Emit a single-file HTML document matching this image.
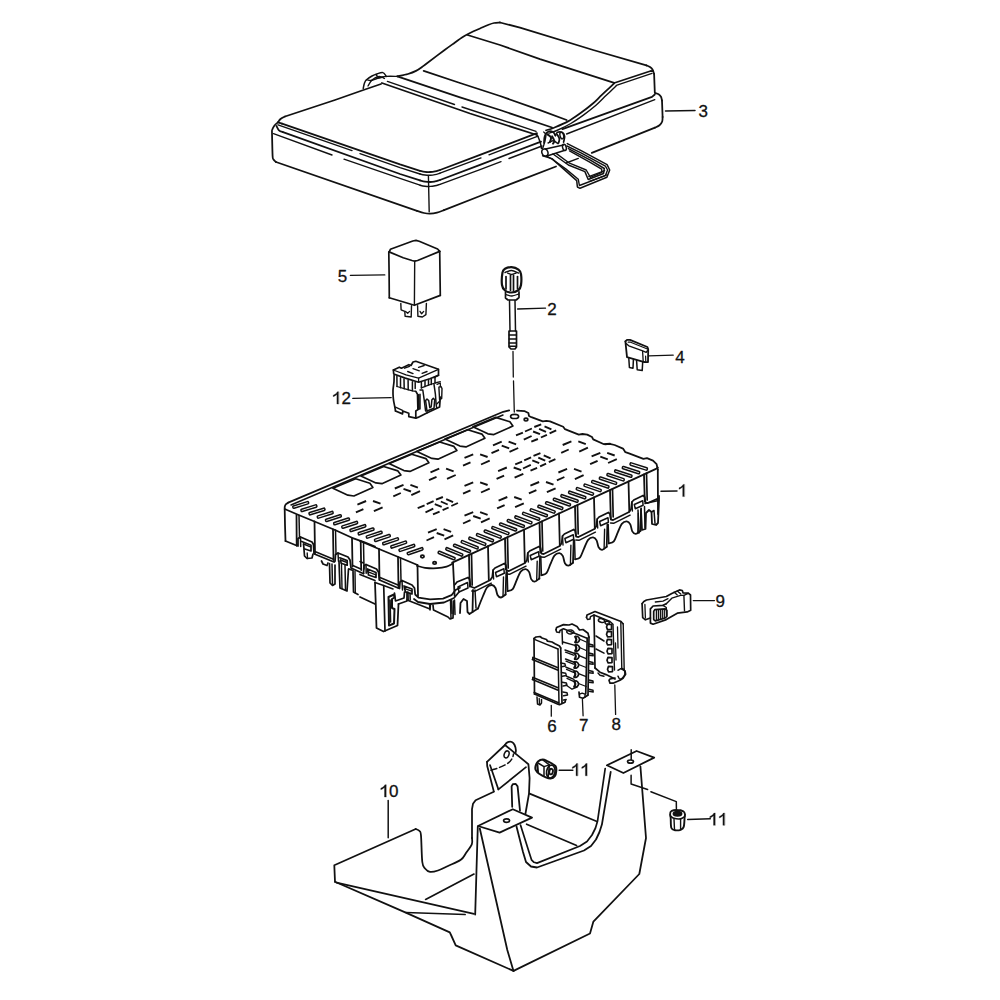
<!DOCTYPE html>
<html><head><meta charset="utf-8"><title>Fuse box exploded view</title>
<style>
html,body{margin:0;padding:0;background:#fff;}
body{width:1000px;height:1000px;overflow:hidden;}
svg{display:block;}
svg text{font-family:"Liberation Sans",sans-serif;fill:#111;stroke:#111;stroke-width:0.3px;}
</style></head><body>
<svg width="1000" height="1000" viewBox="0 0 1000 1000" fill="none" stroke="#111" stroke-width="1.78" stroke-linecap="round" stroke-linejoin="round">
<rect x="0" y="0" width="1000" height="1000" fill="#fff" stroke="none"/>
<path d="M278 122.3 C277.4 122.8 275.4 124.3 274.5 125.5 C273.6 126.7 272.7 128.2 272.3 129.5 C271.9 130.8 271.9 128.6 272 133 C272.1 137.4 272.4 151.6 272.6 156 C272.9 160.4 272.9 158.5 273.5 159.5 C274.1 160.5 275.6 161.6 276 162"/>
<path d="M276 162 L417 210.8"/>
<path d="M417 210.8 C418.2 211.2 421.8 212.5 424 213 C426.2 213.5 427.8 213.8 430 213.7 C432.2 213.6 434.7 213.2 437 212.6 C439.3 212 442.8 210.6 444 210.2"/>
<path d="M444 210.2 L480 196 L520 180.4 L556 166.5"/>
<path d="M591.8 152.9 L655 127.6"/>
<path d="M655 127.6 C655.8 127.2 658.3 126.3 659.5 125.3 C660.7 124.3 661.7 122.9 662.2 121.5 C662.7 120.1 662.5 117.8 662.6 117"/>
<path d="M662.6 117 L662 100.5"/>
<path d="M662 100.5 C661.8 99.9 661.6 97.8 661 96.8 C660.4 95.8 659.6 94.9 658.6 94.3 C657.6 93.7 655.6 93.2 655 93"/>
<path d="M428.4 175.6 L429.2 211.8" stroke-width="1.4"/>
<path d="M278 122.3 L282 123.7"/>
<path d="M282 123.7 L400 164.4 L420 170.8"/>
<path d="M420 170.8 C420.8 171 423.3 171.7 425 171.9 C426.7 172.1 428.7 172.1 430.4 172 C432.1 171.9 433.4 171.7 435 171.4 C436.6 171.1 439.2 170.2 440 170"/>
<path d="M440 170 L480 154.8 L537 133.2"/>
<path d="M278 124.8 L352 150.6" stroke-width="1.4"/>
<path d="M360 153.6 L400 167.6 L420 174" stroke-width="1.4"/>
<path d="M420 174 C420.8 174.2 423.3 174.8 425 175 C426.7 175.2 428.7 175.3 430.4 175.2 C432.1 175.1 433.4 174.9 435 174.6 C436.6 174.3 439.2 173.4 440 173.2" stroke-width="1.4"/>
<path d="M440 173.2 L481 157.9" stroke-width="1.4"/>
<path d="M489 154.8 L538 136.2" stroke-width="1.4"/>
<path d="M276.5 126 C276.9 126.7 277.9 129.3 279 130.3 C280.1 131.3 282.3 131.9 283 132.2"/>
<path d="M283 132.2 L400 174 L420 180.4"/>
<path d="M420 180.4 C420.8 180.6 423.3 181.3 425 181.6 C426.7 181.9 428.7 182 430.4 182 C432.1 182 433.4 181.7 435 181.4 C436.6 181.1 439.2 180.2 440 180"/>
<path d="M440 180 L480 164.8 L541 141.6"/>
<path d="M273.5 133.6 L332 155" stroke-width="1.4"/>
<path d="M344 159.2 L400 178.4 L420 185.2" stroke-width="1.4"/>
<path d="M420 185.2 C420.8 185.4 423.3 186 425 186.2 C426.7 186.4 428.7 186.5 430.4 186.4 C432.1 186.3 433.4 186.1 435 185.8 C436.6 185.5 439.2 184.6 440 184.4" stroke-width="1.4"/>
<path d="M440 184.4 L480 169.6 L501 161.6" stroke-width="1.4"/>
<path d="M509 158.5 L542 146" stroke-width="1.4"/>
<path d="M278 122.3 C278.4 121.8 279.3 120 280.5 119 C281.7 118 284.2 116.9 285 116.5"/>
<path d="M285 116.5 L335 100 L362 90.5 L381 84"/>
<path d="M381.9 83 L460 110 L470 113.5 L537 135"/>
<path d="M387.4 81.4 L454.5 104.5" stroke-width="1.4"/>
<path d="M462 107 L536 131.3" stroke-width="1.4"/>
<path d="M397.3 76.4 L460 97.3 L500 110 L552 127.5"/>
<path d="M423.7 70.9 L460 83 L500 96 L540 110.2 L566.6 120"/>
<path d="M363.2 88.5 C363.4 87.6 363.9 84.5 364.5 83 C365.1 81.5 365.2 80.9 366.5 79.7 C367.8 78.5 370.2 77 372 76 C373.8 75 375.7 74.3 377.5 73.7 C379.3 73.1 381.5 72.1 383 72.6 C384.5 73 385.8 75.8 386.3 76.4" stroke-width="1.5"/>
<path d="M366.5 79.7 C367.2 79.8 369.2 80.7 371 80.5 C372.8 80.3 374.4 79.2 377 78.5 C379.6 77.8 382.9 76.8 386.3 76.4 C389.7 76.1 395.5 76.4 397.3 76.4" stroke-width="1.4"/>
<path d="M368 86 C368.7 85 370.2 81.6 372 80 C373.8 78.4 376.9 76.8 379 76.5 C381.1 76.2 383.6 78.2 384.5 78.5" stroke-width="1.3"/>
<path d="M376 74.5 L378.5 78 L383.5 77" stroke-width="1.3"/>
<path d="M397.3 76.4 C399.1 76 404.9 74.9 408 74 C411.1 73.1 413.7 72.1 416 70.9 C418.3 69.7 420.2 68.3 422 67 C423.8 65.7 423.2 66 427 63.2 C430.8 60.4 439.9 53.5 444.6 50 C449.3 46.5 452.1 44.6 455 42.5 C457.9 40.4 459.5 39.1 462 37.5 C464.5 35.9 467 34.5 470 33 C473 31.5 477 29.8 480 28.5 C483 27.2 485.7 25.9 488 25 C490.3 24.1 492 23.4 494 23 C496 22.6 499 22.6 500 22.5"/>
<path d="M500 22.5 L520 27.6 L593.2 50 L646.4 65.4"/>
<path d="M646.4 65.4 C647 65.7 649 66.3 650 67 C651 67.7 651.8 68.4 652.5 69.5 C653.2 70.6 653.8 73.1 654.1 73.8"/>
<path d="M654.1 73.8 L654.8 92.5"/>
<path d="M467.5 35 L500 45 L540 59.1 L614.2 82.9"/>
<path d="M614.2 83 L650.6 71 L653 71.2"/>
<path d="M616.3 85.4 L652 73.4" stroke-width="1.4"/>
<path d="M614.2 83.3 C613 84.4 609.6 87.7 607.2 89.9 C604.8 92.1 602.3 94.5 600 96.7 C597.7 98.9 596.4 100.5 593.2 103.2 C590 105.9 584.8 110 580.6 113 C576.4 116 572.4 119 568 121.4 C563.6 123.9 557.7 126.2 554 127.7 C550.3 129.2 547.3 129.9 546 130.3"/>
<path d="M616.3 85.7 C614.6 87.3 609.4 92.3 606 95.6 C602.6 98.9 599.8 102 596 105.3 C592.2 108.5 587.6 112.1 583.4 115.1 C579.2 118.1 575.2 120.9 570.8 123.5 C566.4 126.1 560.4 128.9 556.8 130.5 C553.2 132.1 550.3 132.8 549 133.2" stroke-width="1.4"/>
<path d="M562.4 129.1 L652 96.9 L654.8 94.5"/>
<path d="M566.6 134 L654.8 99.7" stroke-width="1.4"/>
<path d="M665.5 110.9 L695 110.4" stroke-width="1.5"/>
<path d="M534.9 133.7 C535.3 134 536.7 134.3 537.6 135.9 C538.5 137.4 539.7 140.9 540.4 143 C541 145.1 541.3 147.6 541.5 148.5" stroke-width="1.5"/>
<path d="M543.7 132 C544 132.5 545.7 133.1 545.9 134.8 C546 136.4 545.3 139.6 544.8 141.9 C544.2 144.2 542.9 147.4 542.6 148.5" stroke-width="1.4"/>
<path d="M544 143 C544.1 141.8 544 137.8 544.8 135.9 C545.5 133.9 547 132.2 548.4 131.6 C549.8 130.9 551.8 131.3 553 132 C554.2 132.7 555 134.9 555.4 135.5" stroke-width="1.7"/>
<path d="M555.4 135.5 C555.8 135 556.5 132.7 557.6 132.2 C558.8 131.7 561.2 131.9 562.4 132.6 C563.5 133.2 564.4 134.8 564.6 136.4 C564.8 138 563.7 141.2 563.6 142.1" stroke-width="1.7"/>
<path d="M547.5 134.4 C548.1 134.9 550.6 136.2 551 137.5 C551.4 138.8 550.1 141.4 549.9 142.1" stroke-width="2"/>
<path d="M552.1 136.4 C552.5 137.2 554.2 139.8 554.3 141 C554.5 142.2 553.2 143.1 553 143.6" stroke-width="2"/>
<path d="M557.4 134.8 C557.7 135.4 559.2 137.4 559.4 138.8 C559.6 140.2 558.7 142.3 558.5 143" stroke-width="1.8"/>
<path d="M548.1 143 C548.9 142.6 551.4 140.7 553 140.8 C554.7 140.9 557.1 143.1 558 143.6" stroke-width="1.5"/>
<ellipse cx="544.9" cy="152.5" rx="3" ry="3.6" stroke-width="1.5" transform="rotate(-20 544.9 152.5)"/>
<path d="M545.5 148.9 L563.5 145" stroke-width="1.5"/>
<path d="M547 156 L564.2 150.5" stroke-width="1.5"/>
<ellipse cx="564.4" cy="147.4" rx="1.8" ry="3.2" stroke-width="1.5" transform="rotate(-15 564.4 147.4)"/>
<ellipse cx="561.8" cy="135.5" rx="1.8" ry="3.4" stroke-width="1.4" transform="rotate(-15 561.8 135.5)"/>
<path d="M542.6 155.7 L551.9 158.6 L564 169.4 L576.7 180.6 L577.4 187 L580 188.3 L606.9 177.3 L609.7 170 L607.1 164.6 L581.6 150.9 L567.3 143.6" stroke-width="1.5"/>
<path d="M546.4 156.2 L553 159.7 L565.7 168.9 L578.3 179.3 L579.4 185.5 L605.3 175.7 L607.6 170 L605.4 166.1 L580.5 152.6 L566.8 146" stroke-width="1.4"/>
<path d="M553 154 L568.4 165 L584.9 171.6 L588.2 179.5 L603.6 173.5 L604.3 168.5 L590.4 160.2 L568.4 148.7" stroke-width="1.5"/>
<path d="M556.5 153.6 L569.5 163.2 L586.2 170 L590.4 177.3 L602 172.3 L601.6 169.1 L589.3 161.8 L569.5 150.9" stroke-width="1.4"/>
<path d="M588.8 176.6 L604.7 170.7" stroke-width="1.3"/>
<path d="M589.5 181.3 L606.9 174.9" stroke-width="1.3"/>
<path d="M566.2 163 L578.3 158.4" stroke-width="1.4"/>
<path d="M389.1 252.2 L390.4 249.3 L412.8 241 L416 240.4 L419.2 241.3 L437.6 249 L439.7 251.4" stroke-width="1.7"/>
<path d="M389.1 251.9 L403.2 257.8 L412 260.5 L414.7 261.2 L417.6 260.5 L439.7 251.4" stroke-width="1.7"/>
<path d="M388.8 252.2 L389.1 273 L389.3 297.8" stroke-width="1.7"/>
<path d="M414.7 261.2 L414.4 305" stroke-width="1.4"/>
<path d="M439.7 251.4 L440.3 295.4" stroke-width="1.7"/>
<path d="M389.3 297.8 L414.4 305.3 L440.3 295.4" stroke-width="1.7"/>
<path d="M400.8 303.4 L401.1 309.8 L404.8 311.4 L405.1 316.2 L411.2 317 L411.5 305.8" stroke-width="1.4"/>
<path d="M405.6 311.4 L407.7 313.3 L409.6 311.4" stroke-width="1.3"/>
<path d="M417.6 305.8 L417.9 316.2 L422.4 317 L425.9 314.6 L426.4 303.4" stroke-width="1.4"/>
<path d="M420 311.4 L421.6 313.8 L423.7 311.4" stroke-width="1.3"/>
<path d="M350.4 275.4 L384.8 274.9" stroke-width="1.3"/>
<path d="M393.4 370 L399.3 367.2 L401.4 368.2 L408.8 364.7 L411 365.5 L413 362 L415.8 361.3 L438.5 369.3 L438.5 375.3 L434 377.5" stroke-width="1.7"/>
<path d="M393.4 370 L393.7 374 L405.3 378.1 L418.6 382.2 L429.8 378.8 L438.5 375.3" stroke-width="1.7"/>
<path d="M393.4 370 L406 374.9 L418.6 378.1 L438.5 369.3" stroke-width="1.3"/>
<path d="M418.6 378.1 L418.6 382.2" stroke-width="1.3"/>
<path d="M404.6 368.2 L409.5 366.3" stroke-width="1.4"/>
<path d="M413 368.7 L419.3 370.8" stroke-width="1.4"/>
<path d="M418.6 367.3 L424.2 365.5" stroke-width="1.4"/>
<path d="M407.7 371.5 L413 373.6" stroke-width="1.4"/>
<path d="M422.1 373.3 L427 371.5" stroke-width="1.4"/>
<path d="M396.9 376 L397 386.5" stroke-width="1.5"/>
<path d="M400.5 377.7 L400.5 387.8" stroke-width="1.5"/>
<path d="M404 379.1 L404.2 388.7" stroke-width="1.5"/>
<path d="M408.1 380.3 L408.2 389.8" stroke-width="1.5"/>
<path d="M412.4 381.7 L412.4 390.7" stroke-width="1.5"/>
<path d="M415.2 382.4 L415.2 388.6" stroke-width="1.5"/>
<path d="M421.4 382.4 L421.4 387.9" stroke-width="1.5"/>
<path d="M425 381 L425 386.5" stroke-width="1.5"/>
<path d="M428.5 379.6 L428.5 385.1" stroke-width="1.5"/>
<path d="M431.3 378.7 L431.3 384.4" stroke-width="1.5"/>
<path d="M435 377.5 L435 383" stroke-width="1.5"/>
<path d="M397 386.5 L404.2 388.7 L412.4 390.8 L415.8 391.4" stroke-width="1.3"/>
<path d="M421.4 387.9 L428.5 385.1 L435 383 L440.3 381.6" stroke-width="1.3"/>
<path d="M394.1 375.3 C394.1 376.3 394.1 379.1 394 381.6 C393.8 384 393.2 387.2 393 390 C392.9 392.8 393 395.6 393.3 398.4 C393.5 401.2 394.4 404.7 394.8 406.8 C395.2 408.9 395.4 410.3 395.5 411" stroke-width="1.7"/>
<path d="M395.5 411 L402.5 413.9 L402.8 411 L408.8 413.2 L408.8 416.7 L415.8 418.1 L417.9 417.4 L426.3 413.2 L439.6 406.9 L440.3 397" stroke-width="1.7"/>
<path d="M395.5 407.1 L402.5 410.3" stroke-width="1.3"/>
<path d="M415.8 391.4 L417.5 394.2 L417.9 409.6 L415.8 411 L415.8 418" stroke-width="1.7"/>
<path d="M420 394.2 L420 408.9 L417.9 409.6" stroke-width="1.5"/>
<path d="M418.6 394.9 L418.9 408.2" stroke-width="1.8"/>
<path d="M420 390 L422.8 390 L424.2 399.8 L425.6 411" stroke-width="1.5"/>
<path d="M425.6 400.5 L427 411 L434 408.2 L434.7 399.8 L433.3 398.4 L431.9 399.8 L431.2 406.8 L429.8 407.6 L428.7 400.5 L427 399.1 L425.6 400.5" stroke-width="1.5"/>
<path d="M427 411 L427 413.1" stroke-width="1.3"/>
<path d="M434 384.4 C434.2 386 435 390.9 435.4 394.2 C435.7 397.5 435.9 401.7 436.1 404 C436.3 406.3 436.7 407.5 436.8 408.2" stroke-width="1.5"/>
<path d="M438.9 387.2 L441 386.5 L442 388.6 L441.7 398.4 L439.6 399.8 L438.9 387.2" stroke-width="1.4"/>
<path d="M437.1 384.4 L440.3 383 L440.4 386.5" stroke-width="1.3"/>
<path d="M436.8 404 L439.6 401.2" stroke-width="1.3"/>
<path d="M352.8 398.4 L391.2 397.6" stroke-width="1.3"/>
<path d="M502.5 272.5 C503 269.8 503.5 269.7 505 268.8 C506.5 267.9 509.2 267.1 511.5 267.2 C513.8 267.3 516.9 268.4 518.5 269.6 C520.1 270.8 520.6 271.6 521 274.2 C521.4 276.8 521.4 282.4 521 285 C520.6 287.6 520.1 288.8 518.5 290 C516.9 291.2 513.8 292.4 511.5 292.5 C509.2 292.6 506.6 291.8 505 290.5 C503.4 289.2 502.4 288 502 285 C501.6 282 502 275.2 502.5 272.5Z" stroke-width="2.2"/>
<path d="M505 272.5 C506.1 272.2 509.2 270.4 511.5 270.5 C513.8 270.6 517.3 272.6 518.5 273" stroke-width="1.4"/>
<path d="M506 276.5 L506 289" stroke-width="1.7"/>
<path d="M510.5 275 L510.5 290.2" stroke-width="1.7"/>
<path d="M513.5 275 L513.5 290.2" stroke-width="1.7"/>
<path d="M517.5 276.5 L517.5 288.5" stroke-width="1.7"/>
<path d="M507.5 273 C508.2 273.2 510.1 274.5 511.5 274.5 C513 274.5 515.4 273.2 516.2 273" stroke-width="1.3"/>
<path d="M505.5 292 L505.5 298 L508 300 L516.2 300 L519 297.5 L519 291.8" stroke-width="1.7"/>
<path d="M506 294.5 C507 294.8 509.9 296.1 512 296 C514.1 295.9 517.7 294.3 518.8 294" stroke-width="1.3"/>
<path d="M509.5 300.5 L510 331" stroke-width="1.5"/>
<path d="M515 300.5 L515.5 331" stroke-width="1.5"/>
<path d="M509 331 L509 347 L511 349 L515 349 L516.5 347 L516.5 331Z" stroke-width="1.7"/>
<path d="M509.2 335 L516.4 335" stroke-width="1.4"/>
<path d="M509.2 339 L516.4 339" stroke-width="1.4"/>
<path d="M509.2 343 L516.4 343" stroke-width="1.4"/>
<path d="M509.4 346.2 L516.2 346.2" stroke-width="1.4"/>
<path d="M513 351.5 L513.3 377" stroke-width="1.3"/>
<path d="M513.5 381 L514.3 412" stroke-width="1.3"/>
<path d="M517.6 309 L545.5 308.2" stroke-width="1.3"/>
<path d="M625.4 341.4 L627 339.8 L630 339.8 L647.4 347 L648.2 349.4 L648 362 L644.6 362.2" stroke-width="1.8"/>
<path d="M625.4 341.4 L627 357.2 L644.4 362.2" stroke-width="1.8"/>
<path d="M625.8 343.4 L628.8 345.8 L642 350.6 L646.2 352.4 L648 350" stroke-width="1.4"/>
<path d="M628.2 342.2 L630.6 342.2 L646.8 348.8" stroke-width="1.2"/>
<path d="M642.6 351.4 L643.2 361.4" stroke-width="1.3"/>
<path d="M645.6 356 L645.8 361.4" stroke-width="1.2"/>
<path d="M628.8 358.2 L629.4 367.4 L633 368.2 L633.4 359.6" stroke-width="1.5"/>
<path d="M636.6 360.6 L637.2 369.8 L642.2 370.6 L642.7 362" stroke-width="1.5"/>
<path d="M648.8 355.8 L673.2 355.2" stroke-width="1.3"/>
<path d="M284.7 509 C284.7 508.6 284.6 507.3 284.8 506.5 C285 505.7 285.4 504.8 286 504.2 C286.6 503.6 287.8 502.9 288.2 502.6"/>
<path d="M288.2 502.6 L503.2 411.8 L509.2 410.4"/>
<path d="M291 505 L476 426.2 L503 415" stroke-width="1.5"/>
<path d="M517 410.6 L524.8 411.2 L528.4 413 L529 416 L531.4 417.2 L542.8 421.4 L546.4 420.8 L550 421.4 L563.2 426.8 L565 429.2 L568 430.4 L578.8 434.6 L582.4 434 L587.2 434.6 L592 437 L593.2 439.4 L604 444.2 L610 443.6"/>
<ellipse cx="514.6" cy="416.4" rx="4" ry="2.1" stroke-width="1.7"/>
<ellipse cx="526" cy="419.6" rx="1.8" ry="1.4" stroke-width="1.7"/>
<path d="M472.9 426.8 L495.7 417.4 L509.9 421.8 L512.9 426 L493.9 434.6 L487.9 433.8Z" stroke-width="1.7"/>
<path d="M444.9 439.1 L467.7 429.7 L481.9 434.1 L484.9 438.3 L465.9 446.9 L459.9 446.1Z" stroke-width="1.7"/>
<path d="M416.9 451.4 L439.7 442 L453.9 446.4 L456.9 450.6 L437.9 459.2 L431.9 458.4Z" stroke-width="1.7"/>
<path d="M388.9 463.6 L411.7 454.2 L425.9 458.6 L428.9 462.8 L409.9 471.4 L403.9 470.6Z" stroke-width="1.7"/>
<path d="M360.9 475.9 L383.7 466.5 L397.9 470.9 L400.9 475.1 L381.9 483.7 L375.9 482.9Z" stroke-width="1.7"/>
<path d="M332.9 488.2 L355.7 478.8 L369.9 483.2 L372.9 487.4 L353.9 496 L347.9 495.2Z" stroke-width="1.7"/>
<rect x="292.5" y="503.7" width="16.4" height="2.4" rx="0.9" stroke-width="1.5" transform="rotate(-17.2 300.7 504.9)"/>
<rect x="300.7" y="507" width="16.4" height="2.4" rx="0.9" stroke-width="1.5" transform="rotate(-17.3 308.9 508.2)"/>
<rect x="308.8" y="510.3" width="16.4" height="2.4" rx="0.9" stroke-width="1.5" transform="rotate(-17.4 317 511.5)"/>
<rect x="317" y="513.6" width="16.4" height="2.4" rx="0.9" stroke-width="1.5" transform="rotate(-17.6 325.2 514.8)"/>
<rect x="325.2" y="516.9" width="16.4" height="2.4" rx="0.9" stroke-width="1.5" transform="rotate(-17.7 333.4 518.1)"/>
<rect x="333.4" y="520.2" width="16.4" height="2.4" rx="0.9" stroke-width="1.5" transform="rotate(-17.8 341.6 521.4)"/>
<rect x="341.5" y="523.6" width="16.4" height="2.4" rx="0.9" stroke-width="1.5" transform="rotate(-17.9 349.7 524.8)"/>
<rect x="349.7" y="526.9" width="16.4" height="2.4" rx="0.9" stroke-width="1.5" transform="rotate(-18 357.9 528.1)"/>
<rect x="357.9" y="530.2" width="16.4" height="2.4" rx="0.9" stroke-width="1.5" transform="rotate(-18.1 366.1 531.4)"/>
<rect x="366" y="533.5" width="16.4" height="2.4" rx="0.9" stroke-width="1.5" transform="rotate(-18.2 374.2 534.7)"/>
<rect x="374.2" y="536.8" width="16.4" height="2.4" rx="0.9" stroke-width="1.5" transform="rotate(-18.3 382.4 538)"/>
<rect x="382.4" y="540.1" width="16.4" height="2.4" rx="0.9" stroke-width="1.5" transform="rotate(-18.4 390.6 541.3)"/>
<rect x="390.5" y="543.4" width="16.4" height="2.4" rx="0.9" stroke-width="1.5" transform="rotate(-18.6 398.7 544.6)"/>
<rect x="398.7" y="546.7" width="16.4" height="2.4" rx="0.9" stroke-width="1.5" transform="rotate(-18.7 406.9 547.9)"/>
<rect x="406.9" y="550" width="16.4" height="2.4" rx="0.9" stroke-width="1.5" transform="rotate(-18.8 415.1 551.2)"/>
<rect x="437.6" y="554.3" width="18" height="2.4" rx="0.9" stroke-width="1.5" transform="rotate(22.3 446.6 555.5)"/>
<rect x="445.3" y="550.7" width="18" height="2.4" rx="0.9" stroke-width="1.5" transform="rotate(22.1 454.3 551.9)"/>
<rect x="453" y="547.2" width="18" height="2.4" rx="0.9" stroke-width="1.5" transform="rotate(21.9 462 548.4)"/>
<rect x="460.7" y="543.6" width="18" height="2.4" rx="0.9" stroke-width="1.5" transform="rotate(21.8 469.7 544.8)"/>
<rect x="468.3" y="540.1" width="18" height="2.4" rx="0.9" stroke-width="1.5" transform="rotate(21.6 477.3 541.3)"/>
<rect x="476" y="536.5" width="18" height="2.4" rx="0.9" stroke-width="1.5" transform="rotate(21.4 485 537.7)"/>
<rect x="483.7" y="532.9" width="18" height="2.4" rx="0.9" stroke-width="1.5" transform="rotate(21.2 492.7 534.1)"/>
<rect x="491.4" y="529.4" width="18" height="2.4" rx="0.9" stroke-width="1.5" transform="rotate(21 500.4 530.6)"/>
<rect x="499.1" y="525.8" width="18" height="2.4" rx="0.9" stroke-width="1.5" transform="rotate(20.9 508.1 527)"/>
<rect x="506.8" y="522.3" width="18" height="2.4" rx="0.9" stroke-width="1.5" transform="rotate(20.7 515.8 523.5)"/>
<rect x="514.4" y="518.7" width="18" height="2.4" rx="0.9" stroke-width="1.5" transform="rotate(20.5 523.4 519.9)"/>
<rect x="522.1" y="515.1" width="18" height="2.4" rx="0.9" stroke-width="1.5" transform="rotate(20.3 531.1 516.3)"/>
<rect x="529.8" y="511.6" width="18" height="2.4" rx="0.9" stroke-width="1.5" transform="rotate(20.1 538.8 512.8)"/>
<rect x="537.5" y="508" width="18" height="2.4" rx="0.9" stroke-width="1.5" transform="rotate(20 546.5 509.2)"/>
<rect x="545.2" y="504.5" width="18" height="2.4" rx="0.9" stroke-width="1.5" transform="rotate(19.8 554.2 505.7)"/>
<rect x="552.9" y="500.9" width="18" height="2.4" rx="0.9" stroke-width="1.5" transform="rotate(19.6 561.9 502.1)"/>
<rect x="560.5" y="497.3" width="18" height="2.4" rx="0.9" stroke-width="1.5" transform="rotate(19.4 569.5 498.5)"/>
<rect x="568.2" y="493.8" width="18" height="2.4" rx="0.9" stroke-width="1.5" transform="rotate(19.2 577.2 495)"/>
<rect x="575.9" y="490.2" width="18" height="2.4" rx="0.9" stroke-width="1.5" transform="rotate(19 584.9 491.4)"/>
<rect x="583.6" y="486.7" width="18" height="2.4" rx="0.9" stroke-width="1.5" transform="rotate(18.9 592.6 487.9)"/>
<rect x="591.3" y="483.1" width="18" height="2.4" rx="0.9" stroke-width="1.5" transform="rotate(18.7 600.3 484.3)"/>
<rect x="599" y="479.5" width="18" height="2.4" rx="0.9" stroke-width="1.5" transform="rotate(18.5 608 480.7)"/>
<rect x="606.6" y="476" width="18" height="2.4" rx="0.9" stroke-width="1.5" transform="rotate(18.3 615.6 477.2)"/>
<rect x="614.3" y="472.4" width="18" height="2.4" rx="0.9" stroke-width="1.5" transform="rotate(18.1 623.3 473.6)"/>
<rect x="622" y="468.9" width="18" height="2.4" rx="0.9" stroke-width="1.5" transform="rotate(17.9 631 470.1)"/>
<rect x="629.7" y="465.3" width="18" height="2.4" rx="0.9" stroke-width="1.5" transform="rotate(17.7 638.7 466.5)"/>
<ellipse cx="422.4" cy="556.5" rx="1.7" ry="1.3" stroke-width="1.7"/>
<ellipse cx="434.6" cy="562.9" rx="1.7" ry="1.3" stroke-width="1.7"/>
<path d="M357.4 504.6 L366.1 501" stroke-width="1.9" stroke-linecap="butt"/>
<path d="M355.9 512.4 L363.4 509.1" stroke-width="1.9" stroke-linecap="butt"/>
<path d="M373.9 511.2 L382.6 507.3" stroke-width="1.9" stroke-linecap="butt"/>
<path d="M373 501 L380.5 503.7" stroke-width="1.9" stroke-linecap="butt"/>
<path d="M394.8 488.5 L403.5 484.9" stroke-width="1.9" stroke-linecap="butt"/>
<path d="M393.3 496.3 L400.8 493" stroke-width="1.9" stroke-linecap="butt"/>
<path d="M411.3 495.1 L420 491.2" stroke-width="1.9" stroke-linecap="butt"/>
<path d="M410.4 484.9 L417.9 487.6" stroke-width="1.9" stroke-linecap="butt"/>
<path d="M403.5 488.8 L411 491.5" stroke-width="1.9" stroke-linecap="butt"/>
<path d="M430.5 472.3 L439.2 468.7" stroke-width="1.9" stroke-linecap="butt"/>
<path d="M429 480.1 L436.5 476.8" stroke-width="1.9" stroke-linecap="butt"/>
<path d="M447 478.9 L455.7 475" stroke-width="1.9" stroke-linecap="butt"/>
<path d="M446.1 468.7 L453.6 471.4" stroke-width="1.9" stroke-linecap="butt"/>
<path d="M464.5 457.9 L473.2 454.3" stroke-width="1.9" stroke-linecap="butt"/>
<path d="M463 465.7 L470.5 462.4" stroke-width="1.9" stroke-linecap="butt"/>
<path d="M481 464.5 L489.7 460.6" stroke-width="1.9" stroke-linecap="butt"/>
<path d="M480.1 454.3 L487.6 457" stroke-width="1.9" stroke-linecap="butt"/>
<path d="M417.7 508.1 L424.6 505.4" stroke-width="1.9" stroke-linecap="butt"/>
<path d="M426.7 504.2 L433.6 501.2" stroke-width="1.9" stroke-linecap="butt"/>
<path d="M436 499.7 L442.9 497" stroke-width="1.9" stroke-linecap="butt"/>
<path d="M425.5 512.3 L433.3 508.7" stroke-width="1.9" stroke-linecap="butt"/>
<path d="M433 514.4 L439.6 511.7" stroke-width="1.9" stroke-linecap="butt"/>
<path d="M442.6 510.2 L448.6 507.5" stroke-width="1.9" stroke-linecap="butt"/>
<path d="M451.3 506 L457.9 503" stroke-width="1.9" stroke-linecap="butt"/>
<path d="M446.2 499.1 L453.1 502.1" stroke-width="1.9" stroke-linecap="butt"/>
<path d="M440.8 501.5 L447.7 504.5" stroke-width="1.9" stroke-linecap="butt"/>
<path d="M434.8 504.2 L441.7 506.9" stroke-width="1.9" stroke-linecap="butt"/>
<path d="M464.5 485.9 L473.2 482.3" stroke-width="1.9" stroke-linecap="butt"/>
<path d="M463 493.7 L470.5 490.4" stroke-width="1.9" stroke-linecap="butt"/>
<path d="M481 492.5 L489.7 488.6" stroke-width="1.9" stroke-linecap="butt"/>
<path d="M480.1 482.3 L487.6 485" stroke-width="1.9" stroke-linecap="butt"/>
<path d="M464.5 515.7 L473.2 512.1" stroke-width="1.9" stroke-linecap="butt"/>
<path d="M463 523.5 L470.5 520.2" stroke-width="1.9" stroke-linecap="butt"/>
<path d="M481 522.3 L489.7 518.4" stroke-width="1.9" stroke-linecap="butt"/>
<path d="M480.1 512.1 L487.6 514.8" stroke-width="1.9" stroke-linecap="butt"/>
<path d="M473.2 516 L480.7 518.7" stroke-width="1.9" stroke-linecap="butt"/>
<path d="M428 532.7 L436.7 529.1" stroke-width="1.9" stroke-linecap="butt"/>
<path d="M426.5 540.5 L434 537.2" stroke-width="1.9" stroke-linecap="butt"/>
<path d="M444.5 539.3 L453.2 535.4" stroke-width="1.9" stroke-linecap="butt"/>
<path d="M443.6 529.1 L451.1 531.8" stroke-width="1.9" stroke-linecap="butt"/>
<path d="M436.7 533 L444.2 535.7" stroke-width="1.9" stroke-linecap="butt"/>
<path d="M516 435.4 L522.9 432.7" stroke-width="1.9" stroke-linecap="butt"/>
<path d="M525 431.5 L531.9 428.5" stroke-width="1.9" stroke-linecap="butt"/>
<path d="M534.3 427 L541.2 424.3" stroke-width="1.9" stroke-linecap="butt"/>
<path d="M523.8 439.6 L531.6 436" stroke-width="1.9" stroke-linecap="butt"/>
<path d="M531.3 441.7 L537.9 439" stroke-width="1.9" stroke-linecap="butt"/>
<path d="M540.9 437.5 L546.9 434.8" stroke-width="1.9" stroke-linecap="butt"/>
<path d="M549.6 433.3 L556.2 430.3" stroke-width="1.9" stroke-linecap="butt"/>
<path d="M544.5 426.4 L551.4 429.4" stroke-width="1.9" stroke-linecap="butt"/>
<path d="M539.1 428.8 L546 431.8" stroke-width="1.9" stroke-linecap="butt"/>
<path d="M533.1 431.5 L540 434.2" stroke-width="1.9" stroke-linecap="butt"/>
<path d="M493 445.3 L501.7 441.7" stroke-width="1.9" stroke-linecap="butt"/>
<path d="M491.5 453.1 L499 449.8" stroke-width="1.9" stroke-linecap="butt"/>
<path d="M509.5 451.9 L518.2 448" stroke-width="1.9" stroke-linecap="butt"/>
<path d="M508.6 441.7 L516.1 444.4" stroke-width="1.9" stroke-linecap="butt"/>
<path d="M501.7 445.6 L509.2 448.3" stroke-width="1.9" stroke-linecap="butt"/>
<path d="M562.7 445 L571.4 441.4" stroke-width="1.9" stroke-linecap="butt"/>
<path d="M561.2 452.8 L568.7 449.5" stroke-width="1.9" stroke-linecap="butt"/>
<path d="M579.2 451.6 L587.9 447.7" stroke-width="1.9" stroke-linecap="butt"/>
<path d="M578.3 441.4 L585.8 444.1" stroke-width="1.9" stroke-linecap="butt"/>
<path d="M591.6 456.4 L600.3 452.8" stroke-width="1.9" stroke-linecap="butt"/>
<path d="M590.1 464.2 L597.6 460.9" stroke-width="1.9" stroke-linecap="butt"/>
<path d="M608.1 463 L616.8 459.1" stroke-width="1.9" stroke-linecap="butt"/>
<path d="M607.2 452.8 L614.7 455.5" stroke-width="1.9" stroke-linecap="butt"/>
<path d="M600.3 456.7 L607.8 459.4" stroke-width="1.9" stroke-linecap="butt"/>
<path d="M515.2 464.3 L522.1 461.6" stroke-width="1.9" stroke-linecap="butt"/>
<path d="M524.2 460.4 L531.1 457.4" stroke-width="1.9" stroke-linecap="butt"/>
<path d="M533.5 455.9 L540.4 453.2" stroke-width="1.9" stroke-linecap="butt"/>
<path d="M523 468.5 L530.8 464.9" stroke-width="1.9" stroke-linecap="butt"/>
<path d="M530.5 470.6 L537.1 467.9" stroke-width="1.9" stroke-linecap="butt"/>
<path d="M540.1 466.4 L546.1 463.7" stroke-width="1.9" stroke-linecap="butt"/>
<path d="M548.8 462.2 L555.4 459.2" stroke-width="1.9" stroke-linecap="butt"/>
<path d="M543.7 455.3 L550.6 458.3" stroke-width="1.9" stroke-linecap="butt"/>
<path d="M538.3 457.7 L545.2 460.7" stroke-width="1.9" stroke-linecap="butt"/>
<path d="M532.3 460.4 L539.2 463.1" stroke-width="1.9" stroke-linecap="butt"/>
<path d="M498.1 471.1 L506.8 467.5" stroke-width="1.9" stroke-linecap="butt"/>
<path d="M496.6 478.9 L504.1 475.6" stroke-width="1.9" stroke-linecap="butt"/>
<path d="M514.6 477.7 L523.3 473.8" stroke-width="1.9" stroke-linecap="butt"/>
<path d="M513.7 467.5 L521.2 470.2" stroke-width="1.9" stroke-linecap="butt"/>
<path d="M558.4 472.5 L567.1 468.9" stroke-width="1.9" stroke-linecap="butt"/>
<path d="M556.9 480.3 L564.4 477" stroke-width="1.9" stroke-linecap="butt"/>
<path d="M574.9 479.1 L583.6 475.2" stroke-width="1.9" stroke-linecap="butt"/>
<path d="M574 468.9 L581.5 471.6" stroke-width="1.9" stroke-linecap="butt"/>
<path d="M530.4 485.6 L539.1 482" stroke-width="1.9" stroke-linecap="butt"/>
<path d="M528.9 493.4 L536.4 490.1" stroke-width="1.9" stroke-linecap="butt"/>
<path d="M546.9 492.2 L555.6 488.3" stroke-width="1.9" stroke-linecap="butt"/>
<path d="M546 482 L553.5 484.7" stroke-width="1.9" stroke-linecap="butt"/>
<path d="M498.6 500.6 L507.3 497" stroke-width="1.9" stroke-linecap="butt"/>
<path d="M497.1 508.4 L504.6 505.1" stroke-width="1.9" stroke-linecap="butt"/>
<path d="M515.1 507.2 L523.8 503.3" stroke-width="1.9" stroke-linecap="butt"/>
<path d="M514.2 497 L521.7 499.7" stroke-width="1.9" stroke-linecap="butt"/>
<path d="M605 444.4 L609.8 443.8 L614.6 445 L623 448.6 L625.4 452.2 L629 453.4 L643.4 458.8 L647 458.2 L653 460.6 L656.6 464.2 L657.8 469.6"/>
<path d="M657.8 469.6 L658 514"/>
<path d="M452.2 562.6 L485 547.6 L609.8 490.1 L656 468.9 L657.8 467.5"/>
<path d="M284.7 509.5 L285 525 L285.5 541"/>
<path d="M284.7 509 L297.5 514.5 L314.5 521.5 L335 530 L352 537.8 L364 542.2 L375 546.5"/>
<path d="M285.5 541 L296.5 545.5"/>
<path d="M296.5 515 L296.7 545.5"/>
<path d="M299 515.5 L299.5 538" stroke-width="1.5"/>
<path d="M296.7 545.5 L298 546 L298 538.5 L300.5 537 L312 542 L313.5 544.5 L314 553.5 L315 554.2 L334 562 L335 561.2 L335.5 554.5 L338 553 L348 557 L350 560 L351 568 L362 573 L363.5 573.5"/>
<path d="M315.5 551.8 L333.5 559.2" stroke-width="1.5"/>
<path d="M352.8 565.5 L360.8 569" stroke-width="1.5"/>
<path d="M314.5 521.5 L315 553.5"/>
<path d="M333 529.5 L333.5 560"/>
<path d="M335.5 530 L336 554.5" stroke-width="1.5"/>
<path d="M352 538 L352.5 566.5"/>
<path d="M360.7 541.2 L361.2 570"/>
<path d="M363.5 542.5 L364 569" stroke-width="1.5"/>
<path d="M300.5 537 L300.7 546.5" stroke-width="1.5"/>
<path d="M301.7 541.5 L311 545.2 L311 551 L304 548.8 L303.5 544" stroke-width="1.7"/>
<path d="M303.5 544 L310.5 546.8" stroke-width="1.4"/>
<path d="M304 549.5 L304.5 556 L307 558.5 L312 558 L313 554" stroke-width="1.7"/>
<path d="M307.2 553 L307.5 558.5" stroke-width="1.4"/>
<path d="M321.5 561 L323 564 L327 565.5 L328 563" stroke-width="1.7"/>
<path d="M329.5 563.5 L330 583 L332.5 585.5 L335 584 L335 565" stroke-width="1.7"/>
<path d="M332 564 L332.5 585" stroke-width="1.5"/>
<path d="M338 553 L338.5 561.2" stroke-width="1.5"/>
<path d="M339.8 557.8 L347.2 560.6 L347.2 565.2 L341.2 563.2 L340.5 560" stroke-width="1.7"/>
<path d="M340.5 560 L347 562.5" stroke-width="1.4"/>
<path d="M339 561.2 L340 588 L347 591 L348.5 569" stroke-width="1.7"/>
<path d="M345 565 L345.5 590.2" stroke-width="1.5"/>
<path d="M341.5 564 L342 588.5" stroke-width="1.4"/>
<path d="M349 569 L353 570.5 L353.5 592 L358 594.5" stroke-width="1.7"/>
<path d="M355 571.2 L355.3 593" stroke-width="1.4"/>
<path d="M360 541 L379 549 L399.5 557.5 L417.5 565"/>
<path d="M379 549 L379.5 580"/>
<path d="M398 557 L398.5 588"/>
<path d="M400.5 558 L401 580.5" stroke-width="1.5"/>
<path d="M417.5 565 L418 596"/>
<path d="M363.5 573.5 L364 565.5 L366 564.5 L376.5 569 L378.5 572 L379.5 580 L398 588 L399.5 588.5 L400 582 L402 580.5 L412 585 L414.5 588 L415.2 594.5 L418.5 597.7 L430 599.3 L443 598.6 L451.5 595.2 L455.5 590 L460 587.8"/>
<path d="M380 577.5 L398 585" stroke-width="1.5"/>
<path d="M360 561.5 L363.5 563" stroke-width="1.5"/>
<path d="M366 564.5 L366.2 573.2" stroke-width="1.5"/>
<path d="M367.5 569 L376 572.5 L376 577.5 L368.5 575 L367.5 569" stroke-width="1.7"/>
<path d="M368.2 571.8 L375.8 574.8" stroke-width="1.4"/>
<path d="M402 580.5 L402.5 590" stroke-width="1.5"/>
<path d="M404 586 L412 589 L412 594 L405.5 592 L404 586" stroke-width="1.7"/>
<path d="M404.8 588.6 L411.8 591.2" stroke-width="1.4"/>
<path d="M414 599 L418 602 L430 604 L444 602.5 L454 598 L459 592"/>
<path d="M360 574.5 L375 580.5" stroke-width="1.7"/>
<path d="M360 597 L375 604" stroke-width="1.7"/>
<path d="M375 582.5 L375.8 605 L376.5 628 L383.5 631.5 L397.5 625.5 L398.5 604"/>
<path d="M383.7 585.5 L385 631" stroke-width="1.7"/>
<path d="M375 582.5 L383.7 585.5 L393 589" stroke-width="1.5"/>
<path d="M388.5 597 L389 625.5 L394 623.5 L394.5 609 L392 608 L392 599 L394.5 597.5 L394 594.5Z" stroke-width="2"/>
<path d="M390 600 L390.5 622" stroke-width="1.7"/>
<path d="M394.5 593 L395.5 601 L404 598 L404.5 592" stroke-width="1.7"/>
<path d="M398.5 604 L407 601 L407 592" stroke-width="1.7"/>
<path d="M408 592 L408.2 600" stroke-width="1.5"/>
<path d="M410 593 L410.2 600" stroke-width="1.5"/>
<path d="M407 600 L430 609 L430.5 604" stroke-width="1.7"/>
<path d="M433 605 L433.5 610 L448 617 L450 619 L453 618 L453.5 601" stroke-width="1.7"/>
<path d="M429.5 604 L430 610" stroke-width="1.5"/>
<path d="M450.5 600 L451 618.5" stroke-width="1.5"/>
<path d="M417 565.8 C418.3 566.1 421.7 567.4 425 567.8 C428.3 568.2 433.4 568.4 437 568.2 C440.6 568 443.9 567.4 446.6 566.6 C449.3 565.8 451.9 563.9 453 563.4"/>
<path d="M453 563.4 L454.6 595.8"/>
<path d="M469 554.9 L469.8 586.5" stroke-width="1.8"/>
<path d="M471.5 553.7 L472.2 585" stroke-width="1.7"/>
<path d="M505 538.3 L505.8 569.5" stroke-width="1.8"/>
<path d="M507.5 537.2 L508.2 568" stroke-width="1.7"/>
<path d="M539.5 522.4 L540.3 552.5" stroke-width="1.8"/>
<path d="M542 521.3 L542.7 551" stroke-width="1.7"/>
<path d="M575 506.1 L575.8 535.5" stroke-width="1.8"/>
<path d="M577.5 505 L578.2 534" stroke-width="1.7"/>
<path d="M610 490 L610.8 518.5" stroke-width="1.8"/>
<path d="M612.5 488.9 L613.2 517" stroke-width="1.7"/>
<path d="M644 474.4 L644.8 501.5" stroke-width="1.8"/>
<path d="M646.5 473.2 L647.2 500" stroke-width="1.7"/>
<path d="M488 546.1 L488.8 579.5"/>
<path d="M524 529.6 L524.8 562.5"/>
<path d="M559 513.5 L559.8 545.5"/>
<path d="M594 497.4 L594.8 528.5"/>
<path d="M628.5 481.5 L629.3 511.5"/>
<path d="M455 584.5 L457 582 L468 577.5 L469.5 579 L470.6 586.5 L474.3 588 L490.3 580 L492.3 577 L493.1 570 L495 568 L504.3 563.5 L505.8 564.8 L506.8 570.7 L509 571 L525 563 L527 560 L527.8 553 L529.7 551 L539 546.5 L540.5 547.8 L541.5 553.7 L543.7 554 L559.7 546 L561.7 543 L562.5 536 L564.4 534 L573.7 529.5 L575.2 530.8 L576.2 536.7 L578.4 537 L594.4 529 L596.4 526 L597.2 519 L599.1 517 L608.4 512.5 L609.9 513.8 L610.9 519.7 L613.1 520 L629.1 512 L631.1 509 L631.9 502 L633.8 500 L643.1 495.5 L644.6 496.8 L645.6 502.7 L647.8 503 L658.5 498.3"/>
<path d="M471.8 591 L474.8 591.3 L491.3 583.2" stroke-width="1.5"/>
<path d="M495.5 572.5 L503.9 568.7 L504.3 573.2 L496.5 576.8Z" stroke-width="1.5"/>
<path d="M493.1 570 L493.6 579" stroke-width="1.4"/>
<path d="M506.5 574 L509.5 574.3 L526 566.2" stroke-width="1.5"/>
<path d="M530.2 555.5 L538.6 551.7 L539 556.2 L531.2 559.8Z" stroke-width="1.5"/>
<path d="M527.8 553 L528.3 562" stroke-width="1.4"/>
<path d="M541.2 557 L544.2 557.3 L560.7 549.2" stroke-width="1.5"/>
<path d="M564.9 538.5 L573.3 534.7 L573.7 539.2 L565.9 542.8Z" stroke-width="1.5"/>
<path d="M562.5 536 L563 545" stroke-width="1.4"/>
<path d="M575.9 540 L578.9 540.3 L595.4 532.2" stroke-width="1.5"/>
<path d="M599.6 521.5 L608 517.7 L608.4 522.2 L600.6 525.8Z" stroke-width="1.5"/>
<path d="M597.2 519 L597.7 528" stroke-width="1.4"/>
<path d="M610.6 523 L613.6 523.3 L630.1 515.2" stroke-width="1.5"/>
<path d="M634.3 504.5 L642.7 500.7 L643.1 505.2 L635.3 508.8Z" stroke-width="1.5"/>
<path d="M631.9 502 L632.4 511" stroke-width="1.4"/>
<path d="M458 587 L467.5 582.5 L468 588 L459 592Z" stroke-width="1.5"/>
<path d="M645 503.5 L658.5 500.5" stroke-width="1.5"/>
<path d="M478 608.5 C478.8 606.4 481.5 599.5 483 596 C484.5 592.5 485.5 589.3 487 587.5 C488.5 585.7 490.6 584.9 492 585 C493.4 585.1 494.6 586.3 495.5 588 C496.4 589.7 496.6 593.4 497.5 595 C498.4 596.6 499.6 597.6 501 597.5 C502.4 597.4 504.8 595 505.6 594.5" stroke-width="1.8"/>
<path d="M505.6 594.5 L506.3 572" stroke-width="1.8"/>
<path d="M503 596.5 L503.5 577" stroke-width="1.4"/>
<path d="M507.7 591.1 C508.5 590.8 511.2 590.9 512.7 589.1 C514.2 587.3 515.4 583 516.7 580.1 C518 577.2 519.2 573.4 520.7 571.6 C522.2 569.8 524.3 569 525.7 569.1 C527.1 569.2 528.3 570.4 529.2 572.1 C530.1 573.8 530.3 577.5 531.2 579.1 C532.1 580.7 533.4 581.7 534.7 581.6 C536.1 581.5 538.5 579.1 539.3 578.6" stroke-width="1.8"/>
<path d="M539.3 578.6 L540 556.1" stroke-width="1.8"/>
<path d="M536.7 580.6 L537.2 561.1" stroke-width="1.4"/>
<path d="M507.7 591.1 L507.1 572.1" stroke-width="1.5"/>
<path d="M541.4 575.2 C542.2 574.9 544.9 575 546.4 573.2 C547.9 571.4 549.1 567.1 550.4 564.2 C551.7 561.3 552.9 557.5 554.4 555.7 C555.9 553.9 558 553.1 559.4 553.2 C560.8 553.3 562 554.5 562.9 556.2 C563.8 557.9 564 561.6 564.9 563.2 C565.8 564.8 567 565.8 568.4 565.7 C569.8 565.6 572.2 563.2 573 562.7" stroke-width="1.8"/>
<path d="M573 562.7 L573.7 540.2" stroke-width="1.8"/>
<path d="M570.4 564.7 L570.9 545.2" stroke-width="1.4"/>
<path d="M541.4 575.2 L540.8 556.2" stroke-width="1.5"/>
<path d="M575.1 559.3 C575.9 559 578.6 559.1 580.1 557.3 C581.6 555.5 582.8 551.2 584.1 548.3 C585.4 545.4 586.6 541.6 588.1 539.8 C589.6 538 591.7 537.2 593.1 537.3 C594.5 537.4 595.7 538.6 596.6 540.3 C597.5 542 597.7 545.7 598.6 547.3 C599.5 548.9 600.8 549.9 602.1 549.8 C603.5 549.7 605.9 547.3 606.7 546.8" stroke-width="1.8"/>
<path d="M606.7 546.8 L607.4 524.3" stroke-width="1.8"/>
<path d="M604.1 548.8 L604.6 529.3" stroke-width="1.4"/>
<path d="M575.1 559.3 L574.5 540.3" stroke-width="1.5"/>
<path d="M608.8 543.4 C609.6 543.1 612.3 543.2 613.8 541.4 C615.3 539.6 616.5 535.3 617.8 532.4 C619.1 529.5 620.3 525.7 621.8 523.9 C623.3 522.1 625.4 521.3 626.8 521.4 C628.2 521.5 629.4 522.7 630.3 524.4 C631.2 526.1 631.4 529.8 632.3 531.4 C633.2 533 634.4 534 635.8 533.9 C637.1 533.8 639.6 531.4 640.4 530.9" stroke-width="1.8"/>
<path d="M640.4 530.9 L641.1 508.4" stroke-width="1.8"/>
<path d="M637.8 532.9 L638.3 513.4" stroke-width="1.4"/>
<path d="M608.8 543.4 L608.2 524.4" stroke-width="1.5"/>
<path d="M460 613 L460.5 603 L463.5 599 L467 601 L467.5 612 L469.5 614 L472.5 612 L473 590" stroke-width="1.8"/>
<path d="M472.5 612 L478 608.5" stroke-width="1.7"/>
<path d="M475 590 L476 608" stroke-width="1.5"/>
<path d="M451.5 600 L452 613.5" stroke-width="1.5"/>
<path d="M454.5 600 L455 614.5" stroke-width="1.5"/>
<path d="M659 496 L659 500 L658 523 L656 525 L652 524 L651.5 512 L649 510 L646 513 L645.5 529 L642 530 L641 510" stroke-width="1.8"/>
<path d="M651.5 512 L654 510.5 L655 523.5" stroke-width="1.5"/>
<path d="M638 510 L639 533" stroke-width="1.5"/>
<path d="M644.5 506.5 L645 528" stroke-width="1.5"/>
<path d="M661 491.2 L677 491" stroke-width="1.5"/>
<path d="M534 638.5 L534.5 694" stroke-width="1.7"/>
<path d="M534 638.5 L536 637 L540 636.5 L542 638 L546.5 639.5 L547.5 641.2 L552 642 L555 643.7 L559.5 646 L560.7 648" stroke-width="1.7"/>
<path d="M535 639.7 L558 649" stroke-width="1.4"/>
<path d="M558 649 L559 704" stroke-width="1.5"/>
<path d="M560.7 648 L562 703" stroke-width="1.7"/>
<path d="M534.5 694 L558 704.2 L559.5 704.7 L565 702.2 L565.5 700" stroke-width="1.7"/>
<path d="M533 657.5 L558 667.7" stroke-width="1.7"/>
<path d="M532.5 659.5 L557.5 670" stroke-width="1.7"/>
<path d="M533 657.5 L532.5 659.5" stroke-width="1.4"/>
<path d="M533 677.5 L558 687.7" stroke-width="1.7"/>
<path d="M532.5 679.5 L557.5 690" stroke-width="1.7"/>
<path d="M533 677.5 L532.5 679.5" stroke-width="1.4"/>
<path d="M534.2 692.5 L558.5 702.8" stroke-width="1.7"/>
<path d="M560.7 663 L564.9 663.8 L565.5 666 L561.5 666.8" stroke-width="1.4"/>
<path d="M561.5 672.5 L565.7 673.3 L566.3 675.5 L562.3 676.3" stroke-width="1.4"/>
<path d="M562.2 682.2 L566.4 683 L567 685.2 L563 686" stroke-width="1.4"/>
<path d="M562.8 692 L567 692.8 L567.6 695 L563.6 695.8" stroke-width="1.4"/>
<path d="M563.5 700 L566.2 699.5" stroke-width="1.4"/>
<path d="M537 697 L537.5 704 L540 705 L541.5 703 L541.5 699.5" stroke-width="1.5"/>
<path d="M539.2 698.5 L539.5 704.5" stroke-width="1.3"/>
<path d="M556 629.7 L556.6 627.5 L563.5 624.6 L569 625 L572 624 L577 626.5 L579.5 630 L583 629.5 L588 633.2 L589 637.2" stroke-width="1.7"/>
<path d="M556 629.7 L556.6 632 L559.5 632.6 L560 630.5 L563.5 628.7 L587 638.2" stroke-width="1.5"/>
<path d="M562 629.5 L562.5 644" stroke-width="1.5"/>
<path d="M587.2 638.2 L585.7 694" stroke-width="1.7"/>
<path d="M589 637.2 L588 695" stroke-width="1.7"/>
<path d="M588.8 644 L593 645 L593.2 646.8 L589 646.2" stroke-width="1.4"/>
<path d="M588.8 653 L593 654 L593.2 655.8 L589 655.2" stroke-width="1.4"/>
<path d="M588.8 661.5 L593 662.5 L593.2 664.3 L589 663.7" stroke-width="1.4"/>
<path d="M588.8 670.5 L593 671.5 L593.2 673.3 L589 672.7" stroke-width="1.4"/>
<path d="M588.8 680 L593 681 L593.2 682.8 L589 682.2" stroke-width="1.4"/>
<path d="M588.8 689.2 L593 690.2 L593.2 692 L589 691.4" stroke-width="1.4"/>
<path d="M575.3 636.7 C575.7 636.7 576.8 636.2 577.5 636.5 C578.2 636.8 579 637.6 579.3 638.3 C579.6 639 579.6 640 579.3 640.7 C579 641.4 578.2 642.2 577.5 642.5 C576.8 642.8 575.7 642.3 575.3 642.3" stroke-width="1.7"/>
<path d="M575.3 636.7 C575.5 637.2 576.3 638.6 576.3 639.5 C576.3 640.4 575.5 641.8 575.3 642.3" stroke-width="2.2"/>
<path d="M579.5 639 L586.2 642" stroke-width="1.3"/>
<path d="M575.3 645.2 C575.7 645.2 576.8 644.7 577.5 645 C578.2 645.3 579 646.1 579.3 646.8 C579.6 647.5 579.6 648.5 579.3 649.2 C579 649.9 578.2 650.7 577.5 651 C576.8 651.3 575.7 650.8 575.3 650.8" stroke-width="1.7"/>
<path d="M575.3 645.2 C575.5 645.7 576.3 647.1 576.3 648 C576.3 648.9 575.5 650.3 575.3 650.8" stroke-width="2.2"/>
<path d="M579.5 647.5 L586.2 650.5" stroke-width="1.3"/>
<path d="M574.8 653.4 C575.2 653.4 576.3 652.9 577 653.2 C577.7 653.5 578.5 654.3 578.8 655 C579.1 655.7 579.1 656.7 578.8 657.4 C578.5 658.1 577.7 658.9 577 659.2 C576.3 659.5 575.2 659 574.8 659" stroke-width="1.7"/>
<path d="M574.8 653.4 C575 653.9 575.8 655.3 575.8 656.2 C575.8 657.1 575 658.5 574.8 659" stroke-width="2.2"/>
<path d="M579 655.7 L586.2 658.7" stroke-width="1.3"/>
<path d="M574.4 662.2 C574.8 662.2 575.9 661.7 576.6 662 C577.3 662.3 578.1 663.1 578.4 663.8 C578.7 664.5 578.7 665.5 578.4 666.2 C578.1 666.9 577.3 667.7 576.6 668 C575.9 668.3 574.8 667.8 574.4 667.8" stroke-width="1.7"/>
<path d="M574.4 662.2 C574.6 662.7 575.4 664.1 575.4 665 C575.4 665.9 574.6 667.3 574.4 667.8" stroke-width="2.2"/>
<path d="M578.6 664.5 L586.2 667.5" stroke-width="1.3"/>
<path d="M574.3 671.4 C574.7 671.4 575.8 670.9 576.5 671.2 C577.2 671.5 578 672.3 578.3 673 C578.6 673.7 578.6 674.7 578.3 675.4 C578 676.1 577.2 676.9 576.5 677.2 C575.8 677.5 574.7 677 574.3 677" stroke-width="1.7"/>
<path d="M574.3 671.4 C574.5 671.9 575.3 673.3 575.3 674.2 C575.3 675.1 574.5 676.5 574.3 677" stroke-width="2.2"/>
<path d="M578.5 673.7 L586.2 676.7" stroke-width="1.3"/>
<path d="M574.3 681.2 C574.7 681.2 575.8 680.7 576.5 681 C577.2 681.3 578 682.1 578.3 682.8 C578.6 683.5 578.6 684.5 578.3 685.2 C578 685.9 577.2 686.7 576.5 687 C575.8 687.3 574.7 686.8 574.3 686.8" stroke-width="1.7"/>
<path d="M574.3 681.2 C574.5 681.7 575.3 683.1 575.3 684 C575.3 684.9 574.5 686.3 574.3 686.8" stroke-width="2.2"/>
<path d="M578.5 683.5 L586.2 686.5" stroke-width="1.3"/>
<path d="M565 650 L574 653.2" stroke-width="1.5"/>
<path d="M565.5 652.2 L573.5 655.2" stroke-width="1.3"/>
<path d="M565.5 659 L574 662.2" stroke-width="1.5"/>
<path d="M566 661.2 L573.5 664.2" stroke-width="1.3"/>
<path d="M566 667.2 L574 670.4" stroke-width="1.5"/>
<path d="M566.5 669.4 L573.5 672.4" stroke-width="1.3"/>
<path d="M566.5 676.2 L574 679.4" stroke-width="1.5"/>
<path d="M567 678.4 L573.5 681.4" stroke-width="1.3"/>
<path d="M566 685 L572 689.2 L577 687.2" stroke-width="1.4"/>
<path d="M563 642 L574 645.2" stroke-width="1.4"/>
<path d="M567 631 C567.6 630.5 569.8 629.8 571 630 C572.2 630.2 574 631.3 574 632 C574 632.7 572.1 633.8 571 634 C569.9 634.2 568.2 633.5 567.5 633 C566.8 632.5 566.4 631.5 567 631Z" stroke-width="1.4"/>
<path d="M579 692 L579.5 697.2 L583 698.2 L587.8 695.2" stroke-width="1.7"/>
<path d="M579.5 694.2 L582.2 693.2 L585 694.2 L585 697.2" stroke-width="1.4"/>
<path d="M586.5 617.5 L587 615 L595 611.5 L621 621.5 L623 623.7" stroke-width="1.7"/>
<path d="M586.5 617.5 L587.5 619.5 L590 619 L590.5 616.6 L594 615 L610 621.5 L613 624.2" stroke-width="1.5"/>
<path d="M594 615 L595 668" stroke-width="1.7"/>
<path d="M595 668 L600 672.2 L606 674.6 L615 679" stroke-width="1.7"/>
<path d="M620.8 621.5 L621.8 669" stroke-width="1.4"/>
<path d="M623.2 623.7 L624.2 670" stroke-width="1.4"/>
<path d="M622 669 L625 671 L625.6 674.2 L623 678.2 L620 680.2 L613 683.2 L610 683.2 L609 680.2 L610 679 L615 678" stroke-width="1.7"/>
<path d="M618 670.2 C618.7 669.9 620.9 668.4 622 668.6 C623.1 668.8 624.5 669.9 624.8 671.2 C625.1 672.5 624.8 674.9 624 676.2 C623.2 677.5 621 679.2 620 679.2 C619 679.2 618.3 676.7 618 676.2" stroke-width="1.5"/>
<path d="M611.5 624.5 L607.5 624.2 L606.5 627 L607.5 629.6 L611.5 629.4 L611.5 624.5" stroke-width="1.7"/>
<path d="M611.5 631.7 L607.5 631.4 L606.5 634.2 L607.5 636.8 L611.5 636.6 L611.5 631.7" stroke-width="1.7"/>
<path d="M611.5 639.7 L607.5 639.4 L606.5 642.2 L607.5 644.8 L611.5 644.6 L611.5 639.7" stroke-width="1.7"/>
<path d="M612 648.7 L608 648.4 L607 651.2 L608 653.8 L612 653.6 L612 648.7" stroke-width="1.7"/>
<path d="M612 657.7 L608 657.4 L607 660.2 L608 662.8 L612 662.6 L612 657.7" stroke-width="1.7"/>
<path d="M612.5 666.7 L608.5 666.4 L607.5 669.2 L608.5 671.8 L612.5 671.6 L612.5 666.7" stroke-width="1.7"/>
<ellipse cx="601.5" cy="620.5" rx="3.2" ry="1.9" stroke-width="1.5" transform="rotate(15 601.5 620.5)"/>
<ellipse cx="607.2" cy="622.8" rx="2.2" ry="1.5" stroke-width="1.4" transform="rotate(15 607.2 622.8)"/>
<path d="M596 636 L604 641" stroke-width="1.5"/>
<path d="M596 649 L604 653.2" stroke-width="1.5"/>
<path d="M613 625 L614.5 670" stroke-width="1.4"/>
<path d="M617.5 627 L618 648" stroke-width="1.3"/>
<path d="M615.5 643 L616 660" stroke-width="1.3"/>
<path d="M598 673 L600 675.2 L604 676.2" stroke-width="1.4"/>
<path d="M551.3 705.5 L551.3 716.2" stroke-width="1.3"/>
<path d="M582.4 699 L583.1 715.8" stroke-width="1.3"/>
<path d="M614.8 685 L615.6 714.4" stroke-width="1.3"/>
<path d="M642.1 603.7 L643.8 601.5 L646.5 600 L666.3 596.5 L671.8 593.4 L679.5 589.9 L682.3 590.5 L683 592.8 L688.3 593.2 L690.5 595 L690.7 610.3 L687.2 611.9 L677.3 613.2 L666.3 619.6 L653.1 624.2 L650.4 623.1 L650.4 608.8 L653.1 606 L663 605.3 L666.3 603.7" stroke-width="1.7"/>
<path d="M642.1 603.7 L642.7 617.6 L645.4 619.8 L650.4 618" stroke-width="1.7"/>
<path d="M644.9 604.4 L645.4 618" stroke-width="1.3"/>
<path d="M683.9 595.4 L684.5 610.8" stroke-width="1.4"/>
<path d="M666.3 603.7 L671.8 598.2 L680.6 595.4 L683.9 595.4 L688.3 593.4" stroke-width="1.4"/>
<path d="M655.3 602 L663 601.1 L668 598.7" stroke-width="1.3"/>
<path d="M663 605.3 L666.3 607.5 L666.5 616.3" stroke-width="1.4"/>
<path d="M653.7 611.4 L654.8 609.7 L665.2 608.8 L666.9 610.3 L666.9 616.3 L665.2 618 L655.3 620.9 L653.7 619.6Z" stroke-width="1.7"/>
<path d="M656.4 609.9 L656.4 620.2" stroke-width="1.3"/>
<path d="M658.4 609.9 L658.4 619.7" stroke-width="1.3"/>
<path d="M660.4 609.9 L660.4 619.2" stroke-width="1.3"/>
<path d="M662.3 609.9 L662.3 618.7" stroke-width="1.3"/>
<path d="M664.3 609.9 L664.3 618.2" stroke-width="1.3"/>
<path d="M674 592.1 L677.3 594.9" stroke-width="1.3"/>
<path d="M677.3 591 L680.8 594.1" stroke-width="1.3"/>
<path d="M693.3 600.6 L714.5 600.6" stroke-width="1.3"/>
<path d="M487 761.8 L505 745"/>
<path d="M505 745 C505.2 744.7 505.6 743.7 506.2 743.2 C506.8 742.7 507.7 742.1 508.6 741.9 C509.5 741.7 510.8 741.5 511.8 742 C512.8 742.5 513.9 743.6 514.6 745 C515.3 746.4 515.8 749 515.9 750.4 C516 751.8 515.3 752.9 515.2 753.4"/>
<path d="M505 745 L515.2 753.4 L528.4 764.2 L529.6 778 L529 793.6 L525.4 814"/>
<path d="M487 761.8 L487.2 766 L493.8 791.4"/>
<path d="M490 765 L498.4 789.4" stroke-width="1.7"/>
<path d="M498.4 789.4 L526 767.2" stroke-width="1.7"/>
<path d="M491 770.2 C492.4 769.7 496.8 768.6 499.6 767.4 C502.4 766.3 505.9 764.7 508 763.2 C510.1 761.7 511.3 760 512.2 758.4 C513.1 756.9 513.3 754.7 513.5 754" stroke-width="1.5" stroke-dasharray="6 3"/>
<ellipse cx="506.6" cy="754.4" rx="2.3" ry="3.6" stroke-width="1.5" transform="rotate(20 506.6 754.4)"/>
<path d="M493.8 791.7 L475.6 800.2 L473 803.8 L472 809.2 L472 838"/>
<path d="M472 838 C472 839.1 472.8 841.9 471.8 844.4 C470.8 846.9 467.8 850.4 466 853 C464.2 855.6 463.8 857.6 460.8 859.8 C457.8 862 451.8 864.2 448 866 C444.2 867.8 441 869.5 438 870.5 C435 871.5 432.2 872.2 430 871.9 C427.8 871.6 426.3 870.1 425 868.5 C423.7 866.9 423 867.5 422.3 862 C421.6 856.5 421.5 840.8 421 835.6 C420.5 830.4 420.4 832.1 419.5 831 C418.6 829.9 416.3 829.3 415.7 829"/>
<path d="M512.2 806.8 L511.6 786.4 L512.8 784.2 L515.8 784 L517.6 786.4 L520 810.6" stroke-width="1.8"/>
<path d="M478 826 L512.8 809.2 L532 817.6 L499.6 832.6Z"/>
<ellipse cx="506.6" cy="820.6" rx="3" ry="1.7" stroke-width="1.7"/>
<path d="M415.7 829 L334.3 865.3 L335 881.8"/>
<path d="M335 881.8 L405.8 912.6 L449.8 932.4 L451.5 936 L455.7 945.4 L513.5 970.9"/>
<path d="M336.5 882.6 L474 913.9" stroke-width="1.7"/>
<path d="M405.8 912.6 L465.2 914.6" stroke-width="1.5"/>
<path d="M425.6 899.4 L474 874.1" stroke-width="1.7"/>
<path d="M477.8 826.5 L476.5 870 L475.2 914.5"/>
<path d="M479.8 828.5 L507.3 950 L513.5 970.9"/>
<path d="M513.5 970.9 L590 933.5 L593.4 921.6 L639.3 874 L646 838 L640.4 766.3"/>
<path d="M605.2 768.5 L597.5 821.3 L595.5 828 L592 835 L587 841.5 L580 846 L537 863.1 L534 862.3 L531.5 859.8 L529 852 L520.5 825" stroke-width="1.7"/>
<path d="M610.7 771.8 L601.9 824.6 L599.5 832 L596 839.5 L591 846 L584 850.5 L537 867.5 L531 866.5 L526 862 L523 852 L516.5 826.5"/>
<path d="M529.6 793.6 L596.4 821.3"/>
<path d="M526.6 824.2 L576.6 845.5" stroke-width="1.7"/>
<path d="M606.9 765.3 L636.6 751 L654.2 757.6 L623.4 773Z"/>
<ellipse cx="630.5" cy="761.6" rx="3" ry="1.6" stroke-width="1.7"/>
<path d="M631.2 749.8 L631.2 759.5" stroke-width="1.5"/>
<path d="M631.1 775.2 L631.1 784 L647.6 789.5" stroke-width="1.5"/>
<path d="M650.9 791.7 L676.3 801.6 L676.4 808.4" stroke-width="1.5"/>
<path d="M388.2 800.4 L388.2 837.8" stroke-width="1.5"/>
<path d="M535.6 766 C536 764.5 536.8 762.5 538 761.4 C539.2 760.3 541.2 759.4 542.8 759.4 C544.4 759.4 545.5 760.3 547.6 761.4 C549.7 762.5 554 764.3 555.4 766 C556.8 767.7 556.3 769.7 556.2 771.4 C556.1 773.1 555.7 775 554.8 776.2 C553.9 777.4 552.1 778.4 550.6 778.6 C549.1 778.8 547.7 778.2 545.8 777.4 C543.9 776.6 540.9 775 539.2 773.8 C537.5 772.6 536.4 771.5 535.8 770.2 C535.2 768.9 535.2 767.5 535.6 766Z" stroke-width="2"/>
<ellipse cx="550.8" cy="771.6" rx="4.2" ry="6.5" stroke-width="1.7" transform="rotate(10 550.8 771.6)"/>
<ellipse cx="551.1" cy="771.6" rx="1.8" ry="2.8" stroke-width="1.9" transform="rotate(10 551.1 771.6)"/>
<path d="M542.8 760 L549.4 764.8 L548.2 777.4" stroke-width="1.5"/>
<path d="M538 763 L544 766.6 L544 775.6" stroke-width="1.5"/>
<path d="M544 766.6 L549.4 764.8" stroke-width="1.4"/>
<path d="M537.4 764.8 L538 772" stroke-width="2"/>
<path d="M559.2 770.2 L572.8 770.2" stroke-width="1.5"/>
<path d="M670.1 813.7 C670.2 812.5 670.6 811.5 671.8 810.8 C673 810.2 675.4 809.9 677.3 810 C679.2 810 682 810.6 683.3 811.3 C684.5 812 684.8 813.3 685 814.4 C685.2 815.4 684.8 815.4 684.6 817.4 C684.4 819.5 684.4 824.9 683.7 826.9 C683 829 682 829.2 680.6 829.8 C679.2 830.3 676.7 830.5 675.1 830.2 C673.6 829.9 672.1 830 671.4 828 C670.6 826 670.9 820.5 670.7 818.1 C670.5 815.7 669.9 814.9 670.1 813.7Z" stroke-width="1.9"/>
<path d="M670.3 815.9 C670.9 816.3 672.3 817.9 674 818.3 C675.7 818.8 678.8 819.1 680.6 818.8 C682.4 818.5 684.1 816.9 684.8 816.6" stroke-width="1.5"/>
<ellipse cx="677.5" cy="813.7" rx="3.4" ry="1.5" stroke-width="3.1"/>
<path d="M674 818.8 L674.5 829.8" stroke-width="1.4"/>
<path d="M680.6 819.2 L680.6 829.5" stroke-width="1.4"/>
<path d="M687.7 819.4 L710.3 818.7" stroke-width="1.5"/>
<text x="698.5" y="117.1" font-size="17.0">3</text>
<text x="337.7" y="281.5" font-size="17.0">5</text>
<path d="M338.5 391.8 L337.3 391.8 L336.4 393.2 L335 394.3 L333.2 395.2 L333.2 396.7 L334.9 395.9 L336.9 394.4 L336.9 404 L338.5 404Z" fill="#111" stroke="#111" stroke-width="0.3"/>
<text x="341.4" y="404" font-size="17.0">2</text>
<text x="547.3" y="315.1" font-size="17.0">2</text>
<text x="675.3" y="362.7" font-size="17.0">4</text>
<path d="M684.3 484.4 L683.1 484.4 L682.2 485.8 L680.8 486.9 L679 487.8 L679 489.3 L680.7 488.5 L682.7 487 L682.7 496.6 L684.3 496.6Z" fill="#111" stroke="#111" stroke-width="0.3"/>
<text x="715.5" y="607" font-size="17.0">9</text>
<text x="547.2" y="732" font-size="17.0">6</text>
<text x="579" y="731.4" font-size="17.0">7</text>
<text x="611.6" y="729.6" font-size="17.0">8</text>
<path d="M386.1 784.8 L384.9 784.8 L384 786.2 L382.6 787.3 L380.8 788.2 L380.8 789.7 L382.5 788.9 L384.5 787.4 L384.5 797 L386.1 797Z" fill="#111" stroke="#111" stroke-width="0.3"/>
<text x="389" y="797" font-size="17.0">0</text>
<path d="M577.6 763.6 L576.4 763.6 L575.5 765 L574.1 766.1 L572.3 767 L572.3 768.5 L574 767.7 L576 766.2 L576 775.8 L577.6 775.8Z" fill="#111" stroke="#111" stroke-width="0.3"/>
<path d="M587 763.6 L585.8 763.6 L584.9 765 L583.6 766.1 L581.8 767 L581.8 768.5 L583.5 767.7 L585.4 766.2 L585.4 775.8 L587 775.8Z" fill="#111" stroke="#111" stroke-width="0.3"/>
<path d="M715.1 813.1 L713.9 813.1 L713 814.5 L711.6 815.6 L709.8 816.5 L709.8 818 L711.5 817.2 L713.5 815.7 L713.5 825.3 L715.1 825.3Z" fill="#111" stroke="#111" stroke-width="0.3"/>
<path d="M724.5 813.1 L723.3 813.1 L722.4 814.5 L721.1 815.6 L719.3 816.5 L719.3 818 L721 817.2 L722.9 815.7 L722.9 825.3 L724.5 825.3Z" fill="#111" stroke="#111" stroke-width="0.3"/>
</svg>
</body></html>
